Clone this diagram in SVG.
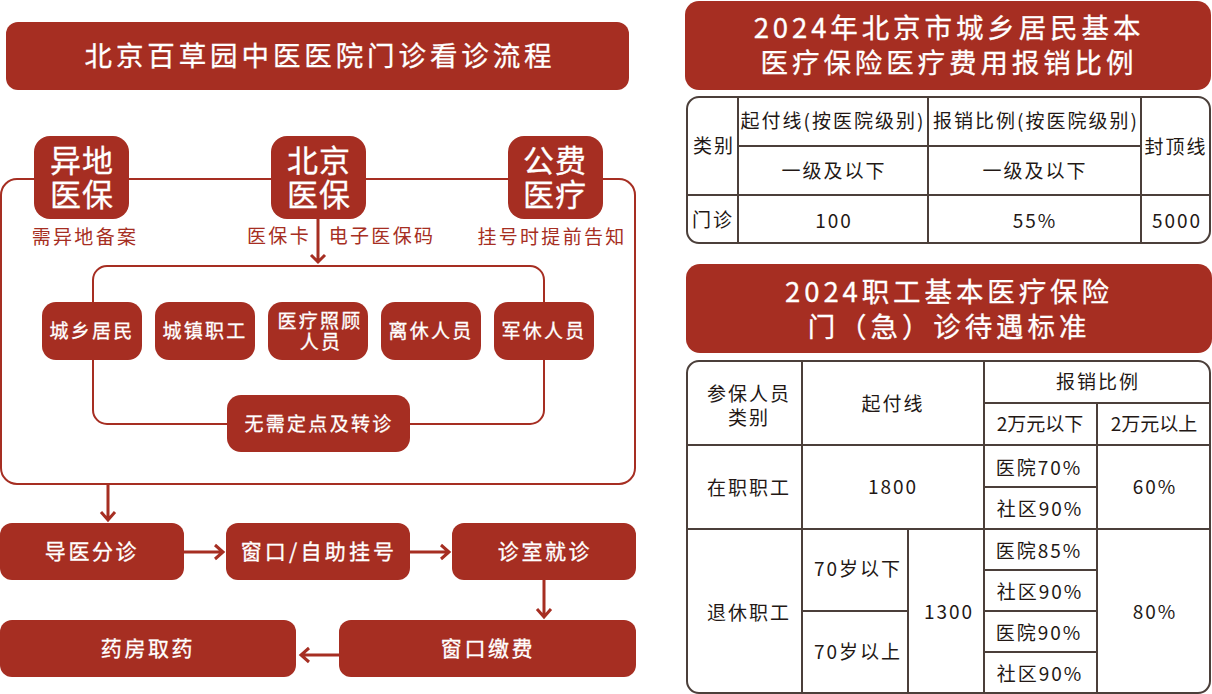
<svg xmlns="http://www.w3.org/2000/svg" width="1212" height="694" viewBox="0 0 1212 694">
<defs>
<style>
text{font-family:"Noto Sans CJK SC","Noto Sans",sans-serif;text-anchor:middle;dominant-baseline:central}
.b{fill:#a62e22}
.w{fill:#fff;stroke:#fff;stroke-width:.3px}
.c{fill:none;stroke:#a62e22;stroke-width:2}
.a{fill:none;stroke:#a62e22;stroke-width:3}
.t{fill:none;stroke:#4b3f3a;stroke-width:2}
.d{fill:#231815;font-size:19px;letter-spacing:2px}
.r{fill:#a62e22;font-size:19px;letter-spacing:2.3px}
.f{font-size:21px;letter-spacing:2.6px}
.s{font-size:19px;letter-spacing:2.3px}
.h{font-size:31px;letter-spacing:1px}
.m{font-size:27.5px;letter-spacing:3.9px}
</style>
</defs>
<rect width="1212" height="694" fill="#fff"/>
<g id="connectors">
<rect class="c" x="1" y="179" width="634" height="305" rx="16"/>
<rect class="c" x="93" y="266" width="451" height="158" rx="14"/>
<path class="a" d="M318 219V262M311 255L318 262L325 255"/>
<path class="a" d="M108 484V520M101 512L108 520L115 512"/>
<path class="a" d="M184 552H223M215 545L223 552L215 559"/>
<path class="a" d="M410 552H449M441 545L449 552L441 559"/>
<path class="a" d="M544 580V617M537 609L544 617L551 609"/>
<path class="a" d="M339 655H301M309 648L301 655L309 662"/>
</g>
<g id="title"><rect class="b" x="6" y="22" width="623" height="68" rx="12"/><text class="w m" x="320" y="54">北京百草园中医医院门诊看诊流程</text></g>
<g id="n-yidi"><rect class="b" x="34" y="136" width="95" height="83" rx="16"/><text class="w h"><tspan x="82" y="158">异地</tspan><tspan x="82" y="192">医保</tspan></text></g>
<g id="n-beijing"><rect class="b" x="271" y="136" width="95" height="83" rx="16"/><text class="w h"><tspan x="319" y="158">北京</tspan><tspan x="319" y="192">医保</tspan></text></g>
<g id="n-gongfei"><rect class="b" x="508" y="136" width="95" height="83" rx="16"/><text class="w h"><tspan x="555" y="158">公费</tspan><tspan x="555" y="192">医疗</tspan></text></g>
<g id="labels">
<text class="r" x="85" y="235">需异地备案</text>
<text class="r" x="279" y="234">医保卡</text>
<text class="r" x="382" y="234">电子医保码</text>
<text class="r" x="552" y="235">挂号时提前告知</text>
</g>
<g id="n1"><rect class="b" x="42" y="302" width="100" height="58" rx="14"/><text class="w s" x="92" y="329">城乡居民</text></g>
<g id="n2"><rect class="b" x="155" y="302" width="100" height="58" rx="14"/><text class="w s" x="205" y="329">城镇职工</text></g>
<g id="n3"><rect class="b" x="268" y="302" width="100" height="58" rx="14"/><text class="w s"><tspan x="320" y="319">医疗照顾</tspan><tspan x="321" y="340">人员</tspan></text></g>
<g id="n4"><rect class="b" x="381" y="302" width="100" height="58" rx="14"/><text class="w s" x="431" y="329">离休人员</text></g>
<g id="n5"><rect class="b" x="494" y="302" width="100" height="58" rx="14"/><text class="w s" x="544" y="329">军休人员</text></g>
<g id="n6"><rect class="b" x="227" y="395" width="183" height="57" rx="14"/><text class="w s" x="319" y="422">无需定点及转诊</text></g>
<g id="s1"><rect class="b" x="0" y="523" width="184" height="57" rx="12"/><text class="w f" x="92" y="550">导医分诊</text></g>
<g id="s2"><rect class="b" x="226" y="523" width="184" height="57" rx="12"/><text class="w f" x="319" y="550" style="letter-spacing:3.2px">窗口/自助挂号</text></g>
<g id="s3"><rect class="b" x="452" y="523" width="184" height="57" rx="12"/><text class="w f" x="545" y="550">诊室就诊</text></g>
<g id="s4"><rect class="b" x="339" y="620" width="297" height="57" rx="12"/><text class="w f" x="488" y="647">窗口缴费</text></g>
<g id="s5"><rect class="b" x="0" y="620" width="296" height="57" rx="12"/><text class="w f" x="148" y="647">药房取药</text></g>
<g id="h1"><rect class="b" x="685" y="1" width="526" height="89" rx="14"/><text class="w m"><tspan x="949" y="26">2024年北京市城乡居民基本</tspan><tspan x="949" y="61">医疗保险医疗费用报销比例</tspan></text></g>
<g id="t1">
<rect class="t" x="687" y="97" width="523" height="146" rx="12"/>
<path class="t" d="M738 97V243M928 97V243M1141 97V243M738 146H1141M687 195H1210"/>
<text class="d" x="714" y="144">类别</text>
<text class="d" x="833" y="119">起付线(按医院级别)</text>
<text class="d" x="1036" y="119">报销比例(按医院级别)</text>
<text class="d" x="834" y="169">一级及以下</text>
<text class="d" x="1035" y="169">一级及以下</text>
<text class="d" x="1176" y="145">封顶线</text>
<text class="d" x="713" y="218">门诊</text>
<text class="d" x="834" y="219">100</text>
<text class="d" x="1035" y="219">55%</text>
<text class="d" x="1177" y="219">5000</text>
</g>
<g id="h2"><rect class="b" x="686" y="264" width="526" height="89" rx="14"/><text class="w m"><tspan x="949" y="290">2024职工基本医疗保险</tspan><tspan x="949" y="325">门（急）诊待遇标准</tspan></text></g>
<g id="t2">
<rect class="t" x="687" y="361" width="523" height="332" rx="12"/>
<path class="t" d="M802 361V693M984 361V693M1097 403V693M908 529V693M984 403H1210M687 445H1210M687 529H1210M984 487H1097M802 611H908M984 570H1097M984 611H1097M984 652H1097"/>
<text class="d"><tspan x="749" y="392">参保人员</tspan><tspan x="749" y="416">类别</tspan></text>
<text class="d" x="893" y="402">起付线</text>
<text class="d" x="1098" y="380">报销比例</text>
<text class="d" x="1040" y="422" style="letter-spacing:0">2万元以下</text>
<text class="d" x="1154" y="422" style="letter-spacing:0">2万元以上</text>
<text class="d" x="749" y="486">在职职工</text>
<text class="d" x="893" y="485">1800</text>
<text class="d" x="1039" y="466">医院70%</text>
<text class="d" x="1040" y="507">社区90%</text>
<text class="d" x="1155" y="485">60%</text>
<text class="d" x="749" y="611">退休职工</text>
<text class="d" x="858" y="567">70岁以下</text>
<text class="d" x="858" y="650">70岁以上</text>
<text class="d" x="949" y="610">1300</text>
<text class="d" x="1039" y="549">医院85%</text>
<text class="d" x="1040" y="590">社区90%</text>
<text class="d" x="1039" y="631">医院90%</text>
<text class="d" x="1040" y="672">社区90%</text>
<text class="d" x="1155" y="610">80%</text>
</g>
</svg>
